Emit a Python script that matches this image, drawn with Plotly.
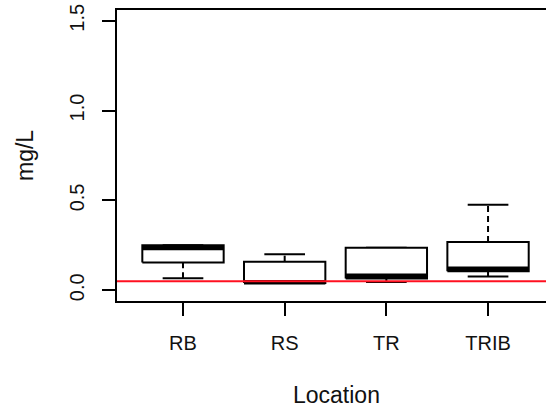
import plotly.graph_objects as go

categories = ["RB", "RS", "TR", "TRIB"]
mins    = [0.067, 0.040, 0.046, 0.076]
q1s     = [0.155, 0.040, 0.065, 0.105]
medians = [0.235, 0.045, 0.080, 0.120]
q3s     = [0.250, 0.159, 0.237, 0.268]
maxs    = [0.250, 0.200, 0.237, 0.476]
reference_level = 0.05
y_ticks = [0.0, 0.5, 1.0, 1.5]
y_tick_labels = ["0.0", "0.5", "1.0", "1.5"]

BOX_HALF = 0.40
CAP_HALF = 0.20
fig = go.Figure()

for i, cat in enumerate(categories):
    x = i + 1
    if maxs[i] > q3s[i]:
        fig.add_trace(go.Scatter(x=[x, x], y=[q3s[i], maxs[i]], mode="lines",
                                 line=dict(color="black", width=2, dash="6px,4px"),
                                 showlegend=False, hoverinfo="skip"))
    if mins[i] < q1s[i]:
        fig.add_trace(go.Scatter(x=[x, x], y=[mins[i], q1s[i]], mode="lines",
                                 line=dict(color="black", width=2, dash="6px,4px"),
                                 showlegend=False, hoverinfo="skip"))
    for v in (mins[i], maxs[i]):
        fig.add_trace(go.Scatter(x=[x - CAP_HALF, x + CAP_HALF], y=[v, v], mode="lines",
                                 line=dict(color="black", width=2),
                                 showlegend=False, hoverinfo="skip"))
    fig.add_trace(go.Scatter(
        x=[x - BOX_HALF, x + BOX_HALF, x + BOX_HALF, x - BOX_HALF, x - BOX_HALF],
        y=[q1s[i], q1s[i], q3s[i], q3s[i], q1s[i]],
        mode="lines", fill="toself", fillcolor="white",
        line=dict(color="black", width=2), showlegend=False, name=cat,
        hoverinfo="skip"))
    fig.add_trace(go.Scatter(x=[x - BOX_HALF, x + BOX_HALF], y=[medians[i], medians[i]],
                             mode="lines", line=dict(color="black", width=4.5),
                             showlegend=False, hoverinfo="skip"))

fig.add_shape(type="line", xref="paper", x0=0, x1=1, yref="y",
              y0=reference_level, y1=reference_level,
              line=dict(color="#ff1020", width=2), layer="above")

font = dict(family="Liberation Sans, Arial, sans-serif", color="#111111")

fig.update_layout(
    width=546, height=409,
    margin=dict(l=117, r=0, t=10, b=108, autoexpand=False),
    paper_bgcolor="white", plot_bgcolor="white",
    font=font,
    xaxis=dict(range=[0.351, 4.57], tickvals=list(range(1, len(categories) + 1)),
               ticktext=categories, showgrid=False, zeroline=False, automargin=False,
               showline=True, linecolor="black", linewidth=2, mirror=True,
               ticks="outside", ticklen=13, tickwidth=2, tickcolor="black",
               tickfont=dict(size=20, **font), ticklabelstandoff=10),
    yaxis=dict(range=[-0.06, 1.56], tickvals=y_ticks, ticktext=y_tick_labels,
               showgrid=False, zeroline=False, automargin=False,
               showline=True, linecolor="black", linewidth=2, mirror=False,
               ticks="outside", ticklen=13, tickwidth=2, tickcolor="black",
               tickangle=-90, tickfont=dict(size=20, **font), ticklabelstandoff=10,
               ticklabeloverflow="allow"),
    annotations=[
        dict(text="mg/L", xref="paper", yref="paper", x=-0.2145, y=0.5017,
             showarrow=False, textangle=-90, font=dict(size=23, **font),
             xanchor="center", yanchor="middle"),
        dict(text="Location", xref="paper", yref="paper", x=0.5105, y=-0.323,
             showarrow=False, font=dict(size=23, **font),
             xanchor="center", yanchor="middle"),
    ],
)

fig.write_html("out.html", config={"displayModeBar": False},
               post_script="document.body.style.margin='0';document.body.style.overflow='hidden';")
